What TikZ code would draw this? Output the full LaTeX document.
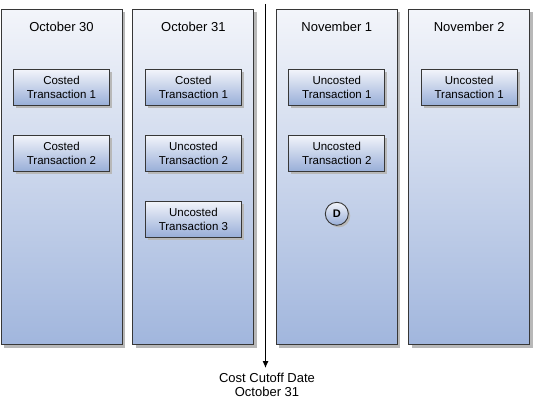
\documentclass[tikz,border=0pt]{standalone}
\usepackage{fontspec}
\setmainfont{Liberation Sans}
\usetikzlibrary{positioning,shadows,arrows.meta}
\definecolor{daytop}{RGB}{243,245,250}
\definecolor{daybot}{RGB}{161,182,221}
\definecolor{txntop}{RGB}{242,244,250}
\definecolor{txnbot}{RGB}{152,174,216}
\definecolor{edge}{RGB}{55,55,55}
\tikzset{
  day/.style={draw=edge, line width=0.9pt, minimum width=121pt, minimum height=335pt,
    top color=daytop, bottom color=daybot,
    drop shadow={shadow xshift=3pt, shadow yshift=-3pt, fill=black!28, opacity=1}},
  daytitle/.style={inner sep=0pt, font=\fontsize{13}{15}\selectfont},
  txn/.style={draw=edge, line width=0.9pt, minimum width=96pt, minimum height=36pt, inner sep=0pt,
    align=center, top color=txntop, bottom color=txnbot, font=\fontsize{11.5}{13.5}\selectfont,
    drop shadow={shadow xshift=2.5pt, shadow yshift=-2.5pt, fill=black!28, opacity=1}},
  marker/.style={circle, draw=edge, line width=0.9pt, minimum size=23pt, inner sep=0pt,
    top color=txntop, bottom color=txnbot, font=\fontsize{11}{13}\selectfont\bfseries,
    drop shadow={shadow xshift=2pt, shadow yshift=-2pt, fill=black!28, opacity=1}},
  cutlabel/.style={inner sep=0pt, align=center, font=\fontsize{13}{14}\selectfont},
}

\begin{document}
\begin{tikzpicture}[x=1pt,y=1pt]
  \useasboundingbox (0,0) rectangle (534,-401);

  % day columns
  \node[day] (col1) at (61.5,-177) {};
  \node[day, right=10pt of col1] (col2) {};
  \node[day, right=21.5pt of col2] (col3) {};
  \node[day, right=10.5pt of col3] (col4) {};

  \node[daytitle, below=13pt of col1.north] (day1) {October 30};
  \node[daytitle, below=13pt of col2.north] (day2) {October 31};
  \node[daytitle, below=13pt of col3.north] (day3) {November 1};
  \node[daytitle, below=13pt of col4.north] (day4) {November 2};

  % transactions
  \node[txn, below=60pt of col1.north] (txn1a) {Costed\\Transaction 1};
  \node[txn, below=29pt of txn1a] (txn1b) {Costed\\Transaction 2};

  \node[txn, below=60pt of col2.north] (txn2a) {Costed\\Transaction 1};
  \node[txn, below=29pt of txn2a] (txn2b) {Uncosted\\Transaction 2};
  \node[txn, below=29pt of txn2b] (txn2c) {Uncosted\\Transaction 3};

  \node[txn, below=60pt of col3.north] (txn3a) {Uncosted\\Transaction 1};
  \node[txn, below=29pt of txn3a] (txn3b) {Uncosted\\Transaction 2};
  \node[marker, below=30pt of txn3b] (mkD) {D};

  \node[txn, below=60pt of col4.north] (txn4a) {Uncosted\\Transaction 1};

  % cutoff
  \coordinate (cuttop) at (265.5,-4);
  \node[cutlabel, anchor=north] (cutlbl) at (267,-373) {Cost Cutoff Date\\October 31};
  \draw[line width=1pt, -{Latex[length=7pt,width=6pt]}, shorten >=5pt] (cuttop) -- (cuttop |- cutlbl.north);
\end{tikzpicture}
\end{document}
